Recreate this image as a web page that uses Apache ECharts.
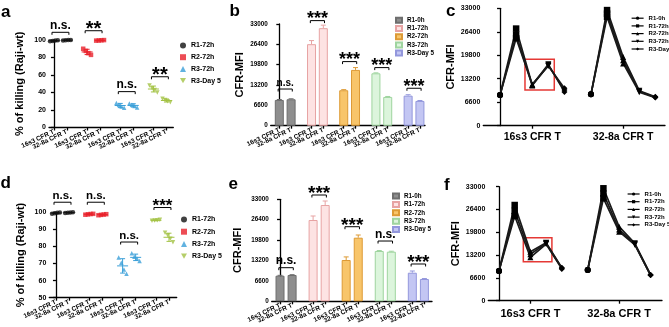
<!DOCTYPE html>
<html>
<head>
<meta charset="utf-8">
<script src="https://cdn.jsdelivr.net/npm/echarts@6/dist/echarts.min.js"></script>
<style>
  html, body { margin: 0; padding: 0; background: #fff; }
  #chart { width: 669px; height: 327px; }
</style>
</head>
<body>
<div id="chart"></div>
<script>
const cells = ['16s3 CFR T', '32-8a CFR T'];
const killGroups = ['R1-72h', 'R2-72h', 'R3-72h', 'R3-Day 5'];
const mfiGroups = ['R1-0h', 'R1-72h', 'R2-72h', 'R3-72h', 'R3-Day 5'];

// a: % of killing, replicates per group
const killA16 = [[98.6, 99.0, 99.3, 99.6], [90, 87.5, 85, 83], [28, 26, 24, 22.5], [48, 45, 43, 40]];
const killA32 = [[99.5, 99.7, 99.9, 100], [99.3, 99.5, 99.7, 99.9], [27.5, 26, 24.5, 23], [33, 31.5, 30, 29]];
const sigA = ['n.s.', '**', 'n.s.', '**'];
const sigAY = [108.8, 110.6, 41, 58];

// d
const killD16 = [[99.2, 99.5, 99.7, 99.9], [98.6, 98.8, 99.0, 99.1], [73.5, 70.5, 66.5, 64], [95.0, 95.2, 95.4, 95.6]];
const killD32 = [[99.6, 99.8, 99.9, 100], [98.3, 98.5, 98.7, 98.9], [76, 74, 73, 71.5], [88, 86.5, 84.5, 82.5]];
const sigD = ['n.s.', 'n.s.', 'n.s.', '***'];
const sigDY = [105.9, 105.9, 82.6, 102.8];

// b: CFR-MFI bars
const mfiB16 = [8350, 26450, 11500, 17000, 9750];
const errB16 = [150, 1170, 200, 150, 300];
const mfiB32 = [8580, 31650, 18100, 9330, 8030];
const errB32 = [150, 975, 750, 150, 150];
const sigB = ['n.s.', '***', '***', '***', '***'];
const sigBY = [11900, 34100, 20800, 18850, 12150];

// e
const mfiE16 = [8280, 26300, 13360, 16270, 9250];
const errE16 = [120, 1300, 1000, 150, 550];
const mfiE32 = [8500, 31150, 20580, 16050, 7210];
const errE32 = [120, 1300, 870, 150, 150];
const sigE = ['n.s.', '***', '***', 'n.s.', '***'];
const sigEY = [10870, 34390, 24130, 19500, 12070];

// c: replicate lines over the five time points
const lineC16 = [[8630, 27300, 11440, 17250, 9500], [8630, 25600, 11300, 17000, 10000], [8630, 24600, 11600, 16800, 10500]];
const lineC32 = [[8820, 32500, 19300, 9830, 8150], [8820, 31500, 18400, 9600, 8000], [8820, 30600, 17500, 9400, 7900]];

// f
const lineF16 = [[8600, 27700, 14190, 16800, 9550], [8600, 26000, 13430, 16600, 9380], [8600, 24500, 12560, 16400, 9200]];
const lineF32 = [[8890, 32540, 21420, 16600, 7440], [8890, 31000, 20600, 16400, 7440], [8890, 29650, 19970, 16200, 7440]];

const F = '"Liberation Sans", Arial, sans-serif';
const dotColors = ['#111111', '#e8202a', '#3a9fd8', '#a3c244'];
const dotSymbols = ['circle', 'rect', 'triangle', 'path://M0,0L10,0L5,9Z'];
const barFill = ['#8e8e8e', '#fde3e3', '#f8c56a', '#dcf5dc', '#c3c6f3'];
const barLine = ['#6e6e6e', '#e7a3a3', '#dd9a35', '#9fd49f', '#9397dc'];
const lineSymbols = ['circle', 'rect', 'triangle', 'path://M0,0L10,0L5,9Z', 'diamond'];
const axisLineStyle = { color: '#000', width: 1.3 };

const grid = [], xAxis = [], yAxis = [], series = [], legend = [];

function mean(a) { return a.reduce((s, v) => s + v, 0) / a.length; }
function sd(a) {
  const m = mean(a);
  return Math.sqrt(a.reduce((s, v) => s + (v - m) * (v - m), 0) / (a.length - 1));
}

function yAxisFor(gi, min, max, interval, name, nameGap, fs) {
  return {
    type: 'value', gridIndex: gi, min: min, max: max, interval: interval,
    axisLine: { show: true, lineStyle: axisLineStyle },
    axisTick: { show: true, length: 3, lineStyle: axisLineStyle },
    axisLabel: { fontSize: fs, fontWeight: 'bold', color: '#000', margin: 3, fontFamily: F,
      showMinLabel: true, showMaxLabel: true, formatter: v => String(v) },
    splitLine: { show: false },
    name: name, nameLocation: 'middle', nameGap: nameGap,
    nameTextStyle: { fontSize: 11, fontWeight: 'bold', color: '#000', fontFamily: F }
  };
}

// one bottom axis per cell line, so neighbouring rotated labels never get culled
function pairAxes(gi, min, max, ticks, label) {
  return [0, 1].map(c => {
    const own = ticks.filter((_, i) => i % 2 === c);
    return {
      type: 'value', gridIndex: gi, min: min, max: max, position: 'bottom',
      axisLine: { show: c === 0, onZero: false, lineStyle: axisLineStyle },
      splitLine: { show: false },
      axisTick: { show: true, customValues: own, length: 3, lineStyle: axisLineStyle },
      axisLabel: {
        customValues: own, rotate: 25, margin: 4, fontSize: 6.5, fontWeight: 'bold',
        color: '#000', fontFamily: F, showMinLabel: true, showMaxLabel: true, hideOverlap: false,
        formatter: () => label[c]
      }
    };
  });
}

function bracketSeries(xi, yi, data, labels, fsNs, fsStar) {
  return {
    type: 'custom', xAxisIndex: xi, yAxisIndex: yi, clip: false, silent: true, z: 5,
    data: data,
    renderItem: (params, api) => {
      const p1 = api.coord([api.value(0), api.value(2)]);
      const p2 = api.coord([api.value(1), api.value(2)]);
      const lab = labels[params.dataIndex];
      const star = lab.indexOf('*') >= 0;
      const fs = star ? fsStar : fsNs;
      const y = p1[1];
      const ty = star ? y - 2.4 + 0.07 * fs : y - 2.4 - 0.35 * fs;
      return {
        type: 'group', children: [
          { type: 'polyline', shape: { points: [[p1[0], y + 2.5], [p1[0], y], [p2[0], y], [p2[0], y + 2.5]] },
            style: { stroke: '#000', lineWidth: 1, fill: null } },
          { type: 'text', style: { text: lab, x: (p1[0] + p2[0]) / 2, y: ty, align: 'center',
            verticalAlign: 'middle', font: 'bold ' + fs + 'px ' + F, fill: '#000' } }
        ]
      };
    }
  };
}

function dotPanel(key, box, xr, step, d16, d32, sig, sigY, yr, nameGap, leg, fsNs, fsStar) {
  const gi = grid.length;
  grid.push(box);
  const xi = xAxis.length;
  const pos = (g, m) => g * step + m;
  const ticks = [];
  killGroups.forEach((_, g) => { ticks.push(pos(g, 0), pos(g, 1)); });
  pairAxes(gi, xr[0], xr[1], ticks, cells).forEach(a => xAxis.push(a));
  yAxis.push(yAxisFor(gi, yr[0], yr[1], yr[2], '% of killing (Raji-wt)', nameGap, 7));

  const stats = [];
  killGroups.forEach((gname, g) => {
    const data = [];
    [d16[g], d32[g]].forEach((vals, m) => {
      vals.forEach((v, i) => data.push([pos(g, m) + (i - (vals.length - 1) / 2) * 0.2, v]));
      stats.push([pos(g, m), mean(vals), sd(vals), g]);
    });
    series.push({
      type: 'scatter', name: gname + '|' + key, xAxisIndex: xi, yAxisIndex: gi, data: data,
      symbol: dotSymbols[g], symbolSize: 4.5, itemStyle: { color: dotColors[g] }, z: 3
    });
  });
  series.push({
    type: 'custom', xAxisIndex: xi, yAxisIndex: gi, silent: true, z: 4, data: stats,
    renderItem: (params, api) => {
      const x = api.value(0), m = api.value(1), s = api.value(2);
      const col = dotColors[api.value(3)];
      const c = api.coord([x, m]), t = api.coord([x, m + s]), b = api.coord([x, m - s]);
      const st = { stroke: col, lineWidth: 1 };
      return {
        type: 'group', children: [
          { type: 'line', shape: { x1: c[0] - 5.5, y1: c[1], x2: c[0] + 5.5, y2: c[1] }, style: st },
          { type: 'line', shape: { x1: c[0], y1: t[1], x2: c[0], y2: b[1] }, style: st },
          { type: 'line', shape: { x1: c[0] - 2.5, y1: t[1], x2: c[0] + 2.5, y2: t[1] }, style: st },
          { type: 'line', shape: { x1: c[0] - 2.5, y1: b[1], x2: c[0] + 2.5, y2: b[1] }, style: st }
        ]
      };
    }
  });
  series.push(bracketSeries(xi, gi, killGroups.map((_, g) => [pos(g, -0.15), pos(g, 1.15), sigY[g]]), sig, fsNs, fsStar));
  legend.push(Object.assign({
    orient: 'vertical', itemWidth: 6, itemHeight: 6, selectedMode: false,
    textStyle: { fontSize: 7, fontWeight: 'bold', color: '#000', fontFamily: F },
    formatter: n => n.split('|')[0],
    data: killGroups.map(n => n + '|' + key)
  }, leg));
}

function barPanel(key, box, xr, step, v16, e16, v32, e32, sig, sigY, nameGap, leg, fsNs, fsStar) {
  const gi = grid.length;
  grid.push(box);
  const xi = xAxis.length;
  const pos = (g, m) => g * step + m;
  const ticks = [];
  mfiGroups.forEach((_, g) => { ticks.push(pos(g, 0), pos(g, 1)); });
  pairAxes(gi, xr[0], xr[1], ticks, cells).forEach(a => xAxis.push(a));
  yAxis.push(yAxisFor(gi, 0, 33000, 6600, 'CFR-MFI', nameGap, 6.3));
  const errs = [];
  mfiGroups.forEach((gname, g) => {
    series.push({
      type: 'bar', name: gname + '|' + key, xAxisIndex: xi, yAxisIndex: gi,
      data: [[pos(g, 0), v16[g]], [pos(g, 1), v32[g]]],
      barWidth: 9, barGap: '-100%',
      itemStyle: { color: barFill[g], borderColor: barLine[g], borderWidth: 1 }
    });
    errs.push([pos(g, 0), v16[g], e16[g], g], [pos(g, 1), v32[g], e32[g], g]);
  });
  series.push({
    type: 'custom', xAxisIndex: xi, yAxisIndex: gi, silent: true, z: 4, clip: false, data: errs,
    renderItem: (params, api) => {
      const p = api.coord([api.value(0), api.value(1)]);
      const t = api.coord([api.value(0), api.value(1) + api.value(2)]);
      const st = { stroke: barLine[api.value(3)], lineWidth: 1 };
      return {
        type: 'group', children: [
          { type: 'line', shape: { x1: p[0], y1: p[1], x2: p[0], y2: t[1] }, style: st },
          { type: 'line', shape: { x1: p[0] - 2.5, y1: t[1], x2: p[0] + 2.5, y2: t[1] }, style: st }
        ]
      };
    }
  });
  series.push(bracketSeries(xi, gi, mfiGroups.map((_, g) => [pos(g, -0.1), pos(g, 1.1), sigY[g]]), sig, fsNs, fsStar));
  legend.push(Object.assign({
    orient: 'vertical', itemWidth: 6, itemHeight: 5, icon: 'rect', selectedMode: false,
    textStyle: { fontSize: 6.3, fontWeight: 'bold', color: '#000', fontFamily: F },
    formatter: n => n.split('|')[0],
    data: mfiGroups.map(n => n + '|' + key)
  }, leg));
}

function linePanel(key, box, xr, shift, l16, l32, nameGap, labelFs, labelMargin, leg) {
  const gi = grid.length;
  grid.push(box);
  const xi = xAxis.length;
  const pos = (c, t) => c * shift + t;
  const ticks = [pos(0, 2), pos(1, 2)];
  xAxis.push({
    type: 'value', gridIndex: gi, min: xr[0], max: xr[1],
    axisLine: { show: true, onZero: false, lineStyle: axisLineStyle },
    splitLine: { show: false },
    axisTick: { show: true, customValues: ticks, length: 3, lineStyle: axisLineStyle },
    axisLabel: {
      customValues: ticks, margin: labelMargin, fontSize: labelFs, fontWeight: 'bold', color: '#000', fontFamily: F,
      showMinLabel: true, showMaxLabel: true,
      formatter: v => cells[Math.abs(v - ticks[0]) < 1e-3 ? 0 : 1]
    }
  });
  yAxis.push(yAxisFor(gi, 0, 33000, 6600, 'CFR-MFI', nameGap, 7));

  [l16, l32].forEach((reps, c) => {
    reps.forEach((row, r) => {
      const s = {
        type: 'line', xAxisIndex: xi, yAxisIndex: gi, symbol: 'none', silent: true, z: 2,
        data: row.map((v, t) => [pos(c, t), v]),
        lineStyle: { color: '#1a1a1a', width: 1.7 }
      };
      if (c === 0 && r === 0) {
        // highlight box round the R2-72h / R3-72h points of 16s3
        const vals = reps.map(rw => rw[2]).concat(reps.map(rw => rw[3]));
        s.markArea = {
          silent: true,
          itemStyle: { color: 'rgba(0,0,0,0)', borderColor: '#e53935', borderWidth: 1.5 },
          data: [[{ coord: [2 - 0.45, Math.max.apply(null, vals) + 1400] },
                  { coord: [3 + 0.37, Math.min.apply(null, vals) - 1300] }]]
        };
      }
      series.push(s);
    });
  });
  mfiGroups.forEach((gname, t) => {
    const data = [];
    [l16, l32].forEach((reps, c) => reps.forEach(row => data.push([pos(c, t), row[t]])));
    series.push({
      type: 'line', name: gname + '|' + key, xAxisIndex: xi, yAxisIndex: gi, data: data,
      symbol: lineSymbols[t], symbolSize: t === 1 ? 6.5 : 6, showAllSymbol: true,
      lineStyle: { opacity: 0 }, itemStyle: { color: '#000' }, z: 3
    });
  });
  legend.push(Object.assign({
    orient: 'vertical', itemWidth: 12, itemHeight: 4, selectedMode: false,
    lineStyle: { opacity: 1, color: '#000', width: 1.2 },
    textStyle: { fontSize: 6, fontWeight: 'bold', color: '#000', fontFamily: F },
    formatter: n => n.split('|')[0],
    data: mfiGroups.map(n => n + '|' + key)
  }, leg));
}

dotPanel('a', { left: 49, top: 40, width: 124.3, height: 87.5 }, [-0.38, 9.18], 2.55,
  killA16, killA32, sigA, sigAY, [0, 100, 20], 23.5, { left: 175, top: 37, itemGap: 4.7 }, 12, 20);
dotPanel('d', { left: 49.3, top: 212.3, width: 127.4, height: 85.4 }, [-0.51, 9.24], 2.55,
  killD16, killD32, sigD, sigDY, [50, 100, 10], 23, { left: 176, top: 211, itemGap: 5.2 }, 11.5, 17);
barPanel('b', { left: 270.7, top: 24, width: 154.3, height: 101.7 }, [-0.73, 12.35], 2.73,
  mfiB16, errB16, mfiB32, errB32, sigB, sigBY, 25.5, { left: 390, top: 11.8, itemGap: 1.2 }, 10, 18);
barPanel('e', { left: 271.7, top: 199.3, width: 160.3, height: 102 }, [-0.69, 12.59], 2.74,
  mfiE16, errE16, mfiE32, errE32, sigE, sigEY, 28.5, { left: 387, top: 187.5, itemGap: 1.4 }, 12, 19);
linePanel('c', { left: 483.3, top: 8.3, width: 181.7, height: 117.4 }, [-1.04, 10.25], 5.65,
  lineC16, lineC32, 23, 10.5, 6, { left: 626, top: 10.2, itemGap: 1.7 });
linePanel('f', { left: 488.3, top: 186.7, width: 173.7, height: 114 }, [-0.68, 10.38], 5.65,
  lineF16, lineF32, 27, 11, 8, { left: 622, top: 186, itemGap: 1.7 });

const panelLetters = [['a', 1, 17], ['b', 229.5, 16], ['c', 446, 16], ['d', 0.5, 188], ['e', 228.5, 189], ['f', 444, 190]];

const chart = echarts.init(document.getElementById('chart'));
chart.setOption({
  animation: false,
  backgroundColor: '#fff',
  textStyle: { fontFamily: F },
  grid: grid,
  xAxis: xAxis,
  yAxis: yAxis,
  legend: legend,
  series: series,
  graphic: panelLetters.map(p => ({
    type: 'text', silent: true,
    style: { text: p[0], x: p[1], y: p[2] + 3.6, verticalAlign: 'bottom', font: 'bold 17px ' + F, fill: '#000' }
  }))
});
</script>
</body>
</html>
